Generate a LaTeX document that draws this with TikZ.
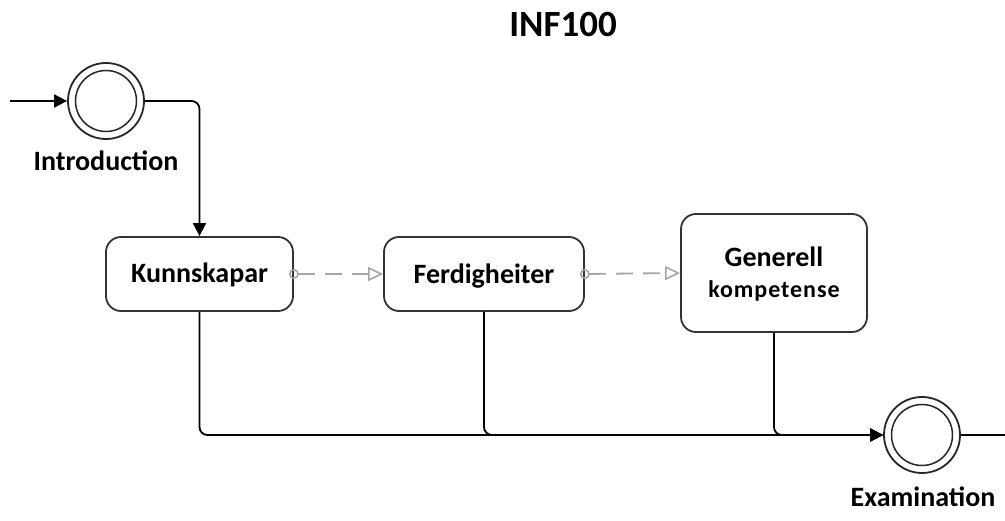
\documentclass[tikz,border=0pt]{standalone}
\usepackage{fontspec}
\setmainfont{Carlito}
\usetikzlibrary{arrows.meta}

\begin{document}
\begin{tikzpicture}[x=1pt, y=-1pt,
  event/.style={circle, draw=black!85, line width=1.8pt, minimum size=76pt, inner sep=0pt},
  task/.style={rectangle, rounded corners=15pt, draw=black!80, line width=1.8pt, fill=white},
  lbl/.style={anchor=base, inner sep=0pt, font=\fontsize{28}{32}\selectfont\bfseries},
  flow/.style={draw=black, line width=1.8pt, rounded corners=8pt,
    -{Triangle[length=13pt, width=13pt]}},
  msg/.style={draw=black!35, line width=1.8pt, dash pattern=on 17pt off 10pt,
    {Circle[open, length=10pt, width=10pt, line width=1.6pt]}-{Triangle[open, length=15pt, width=14pt, line width=1.6pt]},
    shorten <=-5pt}
]
\useasboundingbox (0,0) rectangle (1005,521);

% title
\node[anchor=base, inner sep=0pt, font=\fontsize{37}{42}\selectfont\bfseries] (title) at (563,37) {INF100};

% start and end events
\node[event] (intro) at (106,101) {};
\draw[black!85, line width=1.5pt] (intro.center) circle (30.5);
\node[lbl] (introlbl) at (106,171) {Introduction};

\node[event] (exam) at (922,435) {};
\draw[black!85, line width=1.5pt] (exam.center) circle (30.5);
\node[lbl] (examlbl) at (923,506) {Examination};

% tasks
\node[task, minimum width=187pt, minimum height=74pt] (kun) at (199.5,274) {};
\node[lbl] (kuntxt) at (199.5,283) {Kunnskapar};

\node[task, minimum width=200pt, minimum height=74pt] (ferd) at (484,274) {};
\node[lbl] (ferdtxt) at (484,284) {Ferdigheiter};

\node[task, minimum width=186pt, minimum height=118pt] (gen) at (774,273) {};
\node[lbl] (gentxt) at (774,267) {Generell};
\node[anchor=base, inner sep=0pt, font=\fontsize{24}{28}\selectfont\bfseries\addfontfeature{LetterSpace=4}] (kompt) at (774,298) {kompetense};

% sequence flows
\coordinate (in) at (10,101);
\coordinate (out) at (1005,435);
\draw[flow] (in) -- (intro.west);
\draw[flow] (intro.east) -| (kun.north);
\draw[flow] (kun.south) |- (exam.west);
\draw[flow] (ferd.south) |- (exam.west);
\draw[flow] (gen.south) |- (exam.west);
\draw[black, line width=1.8pt] (exam.east) -- (out);

% message flows
\draw[msg] (kun.east) -- (ferd.west);
\draw[msg] (ferd.east) -- (gen.west);
\end{tikzpicture}
\end{document}
